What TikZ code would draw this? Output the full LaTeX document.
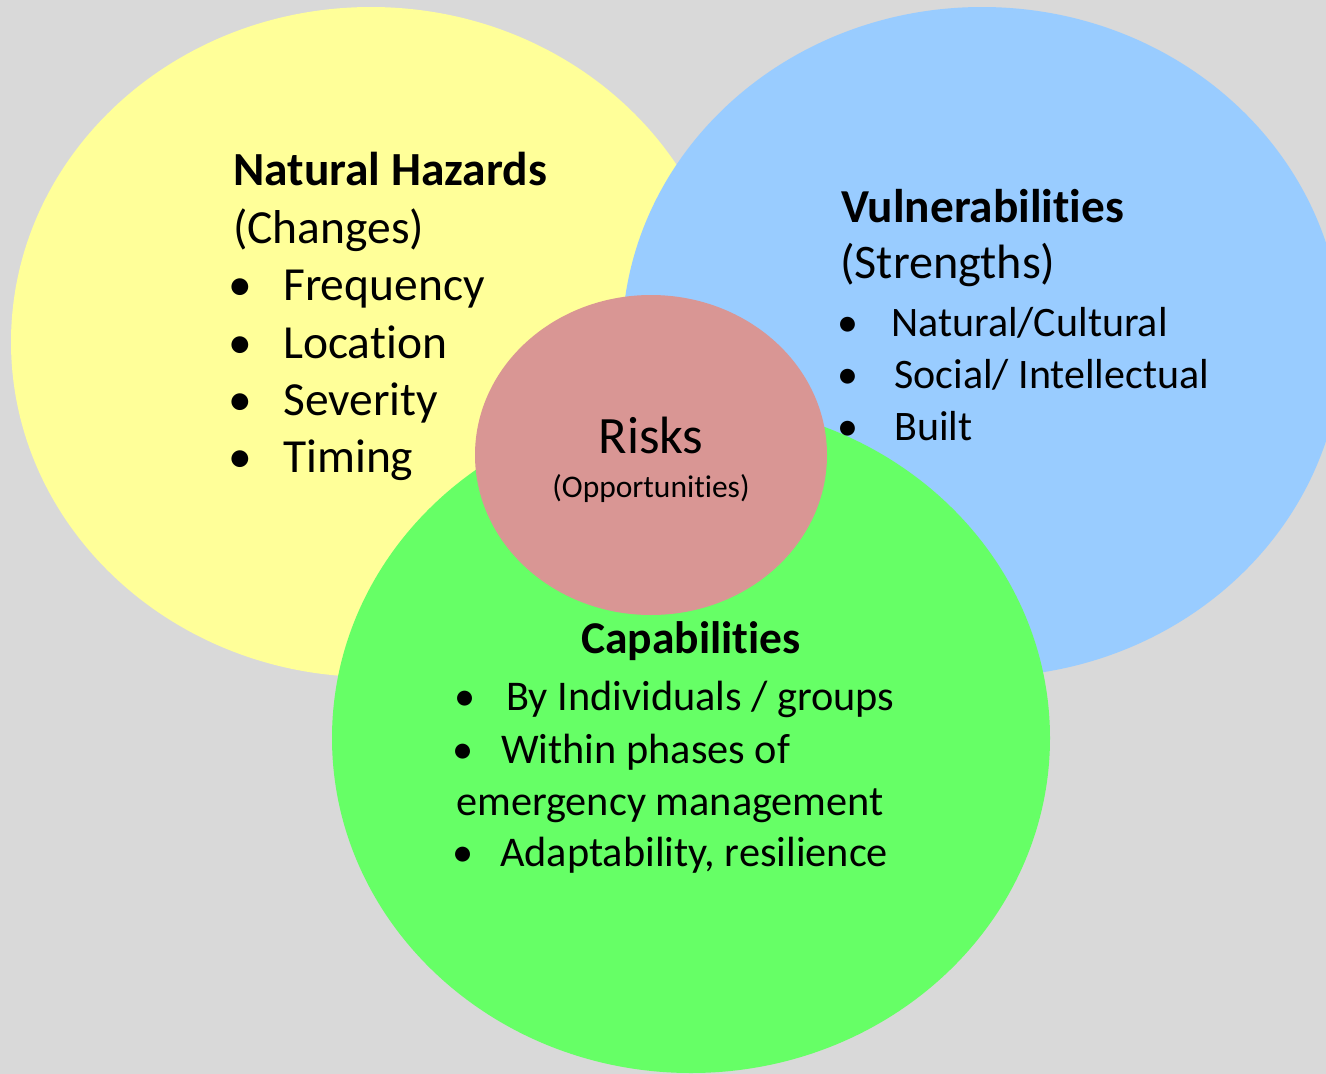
\documentclass[tikz,border=0pt]{standalone}
\usepackage{fontspec}
\setmainfont{Carlito}[Ligatures=NoCommon]
\usetikzlibrary{shapes.geometric}
\definecolor{bg}{HTML}{D9D9D9}
\definecolor{yel}{HTML}{FFFF99}
\definecolor{blu}{HTML}{99CCFF}
\definecolor{grn}{HTML}{66FF66}
\definecolor{pnk}{HTML}{D99694}
\begin{document}
\begin{tikzpicture}[x=1pt,y=-1pt,
  blob/.style={ellipse,inner sep=0pt,draw=none},
  lbl/.style={anchor=base west,inner sep=0pt,text=black},
  bul/.style={anchor=base,inner sep=0pt,text=black},
  fhead/.style={font=\fontsize{47.5}{56}\selectfont\bfseries},
  fbig/.style={font=\fontsize{47.5}{56}\selectfont},
  fvhead/.style={font=\fontsize{47.3}{54}\selectfont\bfseries},
  fvsub/.style={font=\fontsize{48.2}{54}\selectfont},
  fmid/.style={font=\fontsize{42}{48}\selectfont},
  fchead/.style={font=\fontsize{45.5}{50}\selectfont\bfseries},
  fcap/.style={font=\fontsize{42.3}{48}\selectfont},
  frisk/.style={font=\fontsize{52.5}{60}\selectfont},
  fopp/.style={font=\fontsize{31.5}{36}\selectfont}]
\useasboundingbox (0,0) rectangle (1326,1074);
\clip (0,0) rectangle (1326,1074);
\fill[bg] (0,0) rectangle (1326,1074);
% circles
\node[blob,fill=yel,minimum width=720pt,minimum height=670pt] (haz) at (371,342) {};
\node[blob,fill=blu,minimum width=720pt,minimum height=670pt] (vul) at (982,342) {};
\node[blob,fill=grn,minimum width=718pt,minimum height=670pt] (cap) at (691,738) {};
\node[blob,fill=pnk,minimum width=352pt,minimum height=320pt] (risk) at (651,455) {};
% Natural hazards
\node[lbl,fhead] (hazT) at (233,185) {Natural Hazards};
\node[lbl,fbig] (hazS) at (233,243) {(Changes)};
\node[bul,fbig] (hb1) at (240,300) {•};
\node[lbl,fbig] (h1) at (283,300) {Frequency};
\node[bul,fbig] (hb2) at (240,358) {•};
\node[lbl,fbig] (h2) at (283,358) {Location};
\node[bul,fbig] (hb3) at (240,415) {•};
\node[lbl,fbig] (h3) at (283,415) {Severity};
\node[bul,fbig] (hb4) at (240,472) {•};
\node[lbl,fbig] (h4) at (283,472) {Timing};
% Vulnerabilities
\node[lbl,fvhead] (vulT) at (841,222) {Vulnerabilities};
\node[lbl,fvsub] (vulS) at (840,278) {(Strengths)};
\node[bul,fmid] (vb1) at (848,336) {•};
\node[lbl,fmid] (v1) at (891,336) {Natural/Cultural};
\node[bul,fmid] (vb2) at (848,388) {•};
\node[lbl,fmid] (v2) at (894,388) {Social/ Intellectual};
\node[bul,fmid] (vb3) at (848,440) {•};
\node[lbl,fmid] (v3) at (894,440) {Built};
% Risks
\node[bul,frisk] (riskT) at (651,453) {Risks};
\node[bul,fopp] (riskS) at (651,497) {(Opportunities)};
% Capabilities
\node[bul,fchead] (capT) at (691,653) {Capabilities};
\node[bul,fcap] (cb1) at (465,710) {•};
\node[lbl,fcap] (c1) at (506,710) {By Individuals / groups};
\node[bul,fcap] (cb2) at (463,763) {•};
\node[lbl,fcap] (c2) at (501,763) {Within phases of};
\node[lbl,fcap] (c3) at (456,815) {emergency management};
\node[bul,fcap] (cb4) at (463,866) {•};
\node[lbl,fcap] (c4) at (500,866) {Adaptability, resilience};
\end{tikzpicture}
\end{document}
